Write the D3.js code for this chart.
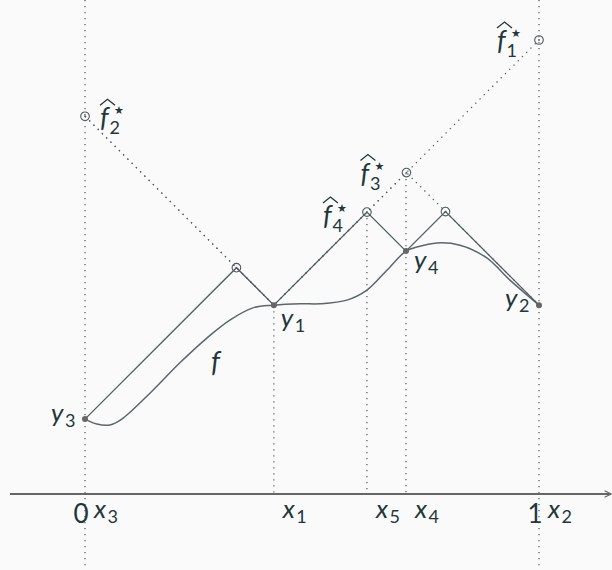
<!DOCTYPE html>
<html>
<head>
<meta charset="utf-8">
<script src="https://cdn.jsdelivr.net/npm/d3@7"></script>
<style>
  html, body { margin: 0; padding: 0; background: #fafafa; }
  svg { display: block; }
  text { fill: #23373b; font-family: "Lato", "Open Sans", sans-serif; }
  .var { font-style: italic; }
</style>
</head>
<body>
<script>
// Lipschitz constant used for the upper bounds
const L = 1;

// evaluated points x1..x4 and their values y1..y4
const sampleX = [0.416, 1.0, 0.0, 0.707];
const sampleY = [0.416, 0.416, 0.165, 0.535];

// the objective f, sampled along [0, 1]
const curveX = [0, 0.026, 0.055, 0.081, 0.143, 0.209, 0.269, 0.319, 0.370, 0.416, 0.474,
                0.518, 0.577, 0.621, 0.665, 0.707, 0.731, 0.775, 0.826, 0.885, 0.936, 1.0];
const curveY = [0.165, 0.154, 0.152, 0.165, 0.222, 0.289, 0.344, 0.383, 0.410, 0.416, 0.419,
                0.419, 0.427, 0.449, 0.493, 0.535, 0.544, 0.553, 0.548, 0.520, 0.471, 0.416];

// axis tick labels: upright numbers and the sample names
const tickNumbers = ["0", "1"];
const tickNames = ["x1", "x2", "x3", "x4", "x5"];
const valueNames = ["y1", "y2", "y3", "y4"];

const W = 612, H = 570;
const x = d3.scaleLinear().domain([0, 1]).range([85, 539]);
const y = d3.scaleLinear().domain([0, 1]).range([494, 40]);

const svg = d3.select("body").append("svg").attr("width", W).attr("height", H);
svg.append("rect").attr("width", W).attr("height", H).attr("fill", "#fafafa");

const ink = "#4f5b5d";
const dotted = "1.3 4.7";

// upper bound built from the first n evaluations
function bound(n, t) {
  let m = Infinity;
  for (let i = 0; i < n; i++) m = Math.min(m, sampleY[i] + L * Math.abs(t - sampleX[i]));
  return m;
}
function peak(a, b) {
  const px = (b.y - a.y + L * (a.x + b.x)) / (2 * L);
  return { x: px, y: a.y + L * (px - a.x), peak: true };
}
function boundVertices(n) {
  const pts = d3.range(n).map(i => ({ x: sampleX[i], y: sampleY[i], i }))
    .sort((a, b) => a.x - b.x);
  const v = [];
  if (pts[0].x > 0) v.push({ x: 0, y: bound(n, 0), peak: true });
  pts.forEach((p, k) => {
    v.push(p);
    if (k < pts.length - 1) v.push(peak(p, pts[k + 1]));
  });
  if (pts[pts.length - 1].x < 1) v.push({ x: 1, y: bound(n, 1), peak: true });
  return v;
}

const b1 = boundVertices(1), b2 = boundVertices(2), b4 = boundVertices(4);
const line = d3.line().x(d => x(d.x)).y(d => y(d.y));

// best bounds f1*..f4* (maxima of the successive bounds)
const f1 = b1[b1.length - 1];                            // at x2 = 1
const f2 = b2[0];                                        // at x3 = 0
const f3 = b2.find(d => d.peak && d.x > 0 && d.x < 1);   // at x4
const f4 = peak({ x: sampleX[0], y: sampleY[0] }, { x: sampleX[3], y: sampleY[3] }); // at x5
const x5 = f4.x;

// vertical guides
const guides = svg.append("g").attr("stroke", ink).attr("stroke-width", 1.2)
  .attr("stroke-dasharray", dotted).attr("fill", "none");
[0, 1].forEach(v => guides.append("line")
  .attr("x1", x(v)).attr("x2", x(v)).attr("y1", 0).attr("y2", H));
guides.append("line").attr("x1", x(sampleX[0])).attr("x2", x(sampleX[0]))
  .attr("y1", y(sampleY[0])).attr("y2", y(0));
guides.append("line").attr("x1", x(x5)).attr("x2", x(x5))
  .attr("y1", y(f4.y)).attr("y2", y(0));
guides.append("line").attr("x1", x(sampleX[3])).attr("x2", x(sampleX[3]))
  .attr("y1", y(bound(2, sampleX[3]))).attr("y2", y(0));

// earlier bounds, dotted
[b1, b2].forEach(b => svg.append("path").attr("d", line(b))
  .attr("fill", "none").attr("stroke", ink).attr("stroke-width", 1.2)
  .attr("stroke-dasharray", dotted));

// horizontal axis with arrow
svg.append("defs").append("marker").attr("id", "arr")
  .attr("viewBox", "0 0 10 10").attr("refX", 9).attr("refY", 5)
  .attr("markerWidth", 8).attr("markerHeight", 8).attr("markerUnits", "userSpaceOnUse")
  .attr("orient", "auto")
  .append("path").attr("d", "M1,1 L9,5 L1,9").attr("fill", "none")
  .attr("stroke", "#666").attr("stroke-width", 1.5);
svg.append("line").attr("x1", 10).attr("x2", 611).attr("y1", y(0)).attr("y2", y(0))
  .attr("stroke", "#666").attr("stroke-width", 1.8).attr("marker-end", "url(#arr)");

// the function f
svg.append("path")
  .attr("d", d3.line().curve(d3.curveCatmullRom.alpha(0.5))
    .x((d, i) => x(curveX[i])).y(d => y(d))(curveY))
  .attr("fill", "none").attr("stroke", "#5c6769").attr("stroke-width", 1.5);

// current bound, solid
svg.append("path").attr("d", line(b4)).attr("fill", "none")
  .attr("stroke", ink).attr("stroke-width", 1.3);

// open circles at the bound vertices
const openPts = [f1, f2, f3, f4].concat(b4.filter(d => d.peak && d !== b4[0]))
  .filter((d, i, a) => a.findIndex(e => Math.abs(e.x - d.x) < 1e-6 && Math.abs(e.y - d.y) < 1e-6) === i);
const rings = svg.append("g").selectAll("g").data(openPts).join("g")
  .attr("transform", d => `translate(${x(d.x)},${y(d.y)})`);
rings.append("circle").attr("r", 4.3)
  .attr("fill", "none").attr("stroke", ink).attr("stroke-width", 1.1);
rings.append("circle").attr("r", 0.9).attr("fill", ink);

// evaluated points
svg.append("g").selectAll("circle").data(sampleX).join("circle")
  .attr("cx", d => x(d)).attr("cy", (d, i) => y(sampleY[i])).attr("r", 3)
  .attr("fill", "#666");

// labels: italic letter with subscript and optional star/hat, in one text element
const MAIN = 26, SUB = 18;
function label(px, py, letter, sub, opts = {}) {
  const t = svg.append("text").attr("x", px).attr("y", py).attr("font-size", opts.size ?? MAIN);
  t.append("tspan").attr("class", "var").text(letter);
  t.append("tspan").attr("x", px + (opts.subDx ?? 14)).attr("y", py + (opts.subDy ?? 5))
    .attr("font-size", SUB).text(sub);
  if (opts.star) {
    t.append("tspan").attr("x", px + 14).attr("y", py - 13)
      .attr("font-size", 11).style("font-family", "DejaVu Sans").text("★");
  }
  if (opts.hat) {
    svg.append("path").attr("d", `M${px},${py - 22} L${px + 7.5},${py - 28} L${px + 15},${py - 22}`)
      .attr("fill", "none").attr("stroke", "#23373b").attr("stroke-width", 1.3);
  }
}

// f-hat-star labels next to their circles
const starOffsets = [[-42, 10], [15, 11], [-46, 10], [-44, 13]];
[f1, f2, f3, f4].forEach((p, k) => {
  label(x(p.x) + starOffsets[k][0], y(p.y) + starOffsets[k][1], "f", String(k + 1),
    { star: true, hat: true, subDx: 9.5, subDy: 7, size: 27 });
});

// y labels beside the evaluated points
const yOffsets = [[7, 22], [-34, 2], [-34, 3], [8, 18]];
valueNames.forEach((n, i) => {
  label(x(sampleX[i]) + yOffsets[i][0], y(sampleY[i]) + yOffsets[i][1], n[0], n.slice(1),
    { subDx: 14, subDy: 5 });
});

// f label on the curve
svg.append("text").attr("class", "var").attr("x", 211).attr("y", 372)
  .attr("font-size", 28).text("f");

// x-axis labels
const tickX = [sampleX[0], sampleX[1], sampleX[2], sampleX[3], x5];
tickNames.forEach((n, i) => {
  label(x(tickX[i]) + 9, 518, n[0], n.slice(1), { subDx: 13.5, subDy: 5 });
});
tickNumbers.forEach((n, i) => {
  svg.append("text").attr("x", x(i) - 4).attr("y", 523).attr("text-anchor", "middle")
    .attr("font-size", MAIN).text(n);
});
</script>
</body>
</html>
